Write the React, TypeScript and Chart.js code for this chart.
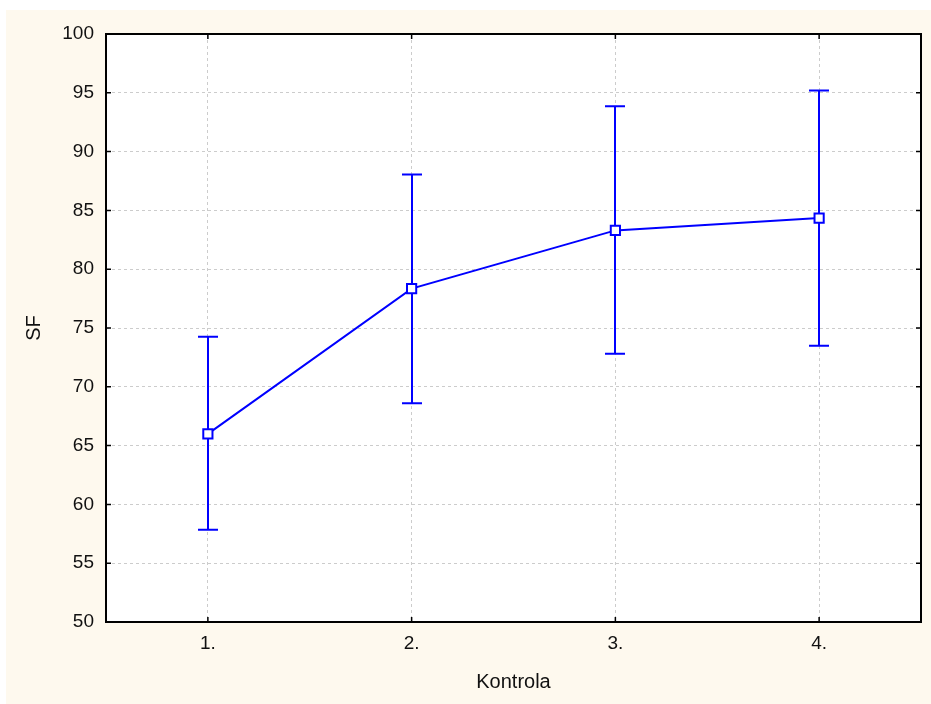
import React, { useEffect, useRef } from "react";
import { Chart, registerables } from "chart.js";

Chart.register(...registerables);

const categories = ["1.", "2.", "3.", "4."];
const means = [66.0, 78.35, 83.3, 84.35];
const lower = [57.85, 68.6, 72.8, 73.5];
const upper = [74.25, 88.05, 93.85, 95.2];
const yTicks = [50, 55, 60, 65, 70, 75, 80, 85, 90, 95, 100];

const BLUE = "#0000FF";
const FONT = "'Liberation Sans', Arial, sans-serif";

const bgPlugin = {
  id: "bgPlugin",
  beforeDraw(chart: any) {
    const { ctx, width, height, chartArea } = chart;
    ctx.save();
    ctx.fillStyle = "#FFFFFF";
    ctx.fillRect(0, 0, width, height);
    ctx.fillStyle = "#FEF9EE";
    ctx.fillRect(6, 10, width - 6, height - 10);
    ctx.fillStyle = "#FFFFFF";
    ctx.fillRect(chartArea.left, chartArea.top, chartArea.right - chartArea.left, chartArea.bottom - chartArea.top);
    ctx.restore();
  },
};

const errorBarPlugin = {
  id: "errorBarPlugin",
  beforeDatasetsDraw(chart: any) {
    const { ctx, scales } = chart;
    const x = scales.x;
    const y = scales.y;
    ctx.save();
    ctx.strokeStyle = BLUE;
    ctx.lineWidth = 2;
    categories.forEach((c, i) => {
      const px = Math.round(x.getPixelForValue(i));
      const yl = y.getPixelForValue(lower[i]);
      const yu = y.getPixelForValue(upper[i]);
      ctx.beginPath();
      ctx.moveTo(px, yl);
      ctx.lineTo(px, yu);
      ctx.moveTo(px - 10, yl);
      ctx.lineTo(px + 10, yl);
      ctx.moveTo(px - 10, yu);
      ctx.lineTo(px + 10, yu);
      ctx.stroke();
    });
    ctx.restore();
  },
};

const framePlugin = {
  id: "framePlugin",
  afterDraw(chart: any) {
    const { ctx, chartArea, scales } = chart;
    const { left, right, top, bottom } = chartArea;
    ctx.save();
    ctx.strokeStyle = "#000";
    ctx.lineWidth = 2;
    ctx.strokeRect(left, top, right - left, bottom - top);
    ctx.lineWidth = 1.5;
    ctx.beginPath();
    yTicks.forEach((v) => {
      const py = scales.y.getPixelForValue(v);
      ctx.moveTo(left, py);
      ctx.lineTo(left + 5, py);
      ctx.moveTo(right, py);
      ctx.lineTo(right - 5, py);
    });
    categories.forEach((c, i) => {
      const px = scales.x.getPixelForValue(i);
      ctx.moveTo(px, bottom);
      ctx.lineTo(px, bottom - 5);
      ctx.moveTo(px, top);
      ctx.lineTo(px, top + 5);
    });
    ctx.stroke();
    ctx.restore();
  },
};

export default function App() {
  const ref = useRef<HTMLCanvasElement | null>(null);
  useEffect(() => {
    if (!ref.current) return;
    const chart = new Chart(ref.current, {
      type: "line",
      data: {
        labels: categories,
        datasets: [
          {
            data: means,
            borderColor: BLUE,
            borderWidth: 2,
            backgroundColor: "#FFFFFF",
            pointStyle: "rect",
            pointRadius: 6.5,
            pointBorderWidth: 2,
            pointBorderColor: BLUE,
            pointBackgroundColor: "#FFFFFF",
            tension: 0,
          },
        ],
      },
      options: {
        animation: false,
        responsive: false,
        maintainAspectRatio: false,
        layout: { padding: { left: 0, right: 10, top: 34, bottom: 0 } },
        plugins: { legend: { display: false }, tooltip: { enabled: false } },
        scales: {
          x: {
            type: "category",
            offset: true,
            grid: { color: "#CCCCCC", lineWidth: 1, drawTicks: false, offset: false },
            border: { display: false, dash: [3, 3] },
            ticks: { color: "#111", font: { family: FONT, size: 19 }, padding: 10 },
            title: {
              display: true,
              text: "Kontrola",
              color: "#111",
              font: { family: FONT, size: 20 },
              padding: { top: 0, bottom: 10 },
            },
            afterFit(scale: any) {
              scale.height = 82;
            },
          },
          y: {
            min: 50,
            max: 100,
            grid: { color: "#CCCCCC", lineWidth: 1, drawTicks: false },
            border: { display: false, dash: [3, 3] },
            ticks: {
              stepSize: 5,
              color: "#111",
              font: { family: FONT, size: 19 },
              padding: 12,
            },
            title: {
              display: true,
              text: "SF",
              color: "#111",
              font: { family: FONT, size: 20 },
              padding: { top: 22, bottom: 0 },
            },
            afterFit(scale: any) {
              scale.width = 106;
            },
          },
        },
      },
      plugins: [bgPlugin, errorBarPlugin, framePlugin],
    });
    return () => chart.destroy();
  }, []);
  return (
    <div style={{ position: "absolute", left: 0, top: 0, width: 931, height: 704 }}>
      <canvas ref={ref} width={931} height={704} style={{ display: "block" }} />
    </div>
  );
}
